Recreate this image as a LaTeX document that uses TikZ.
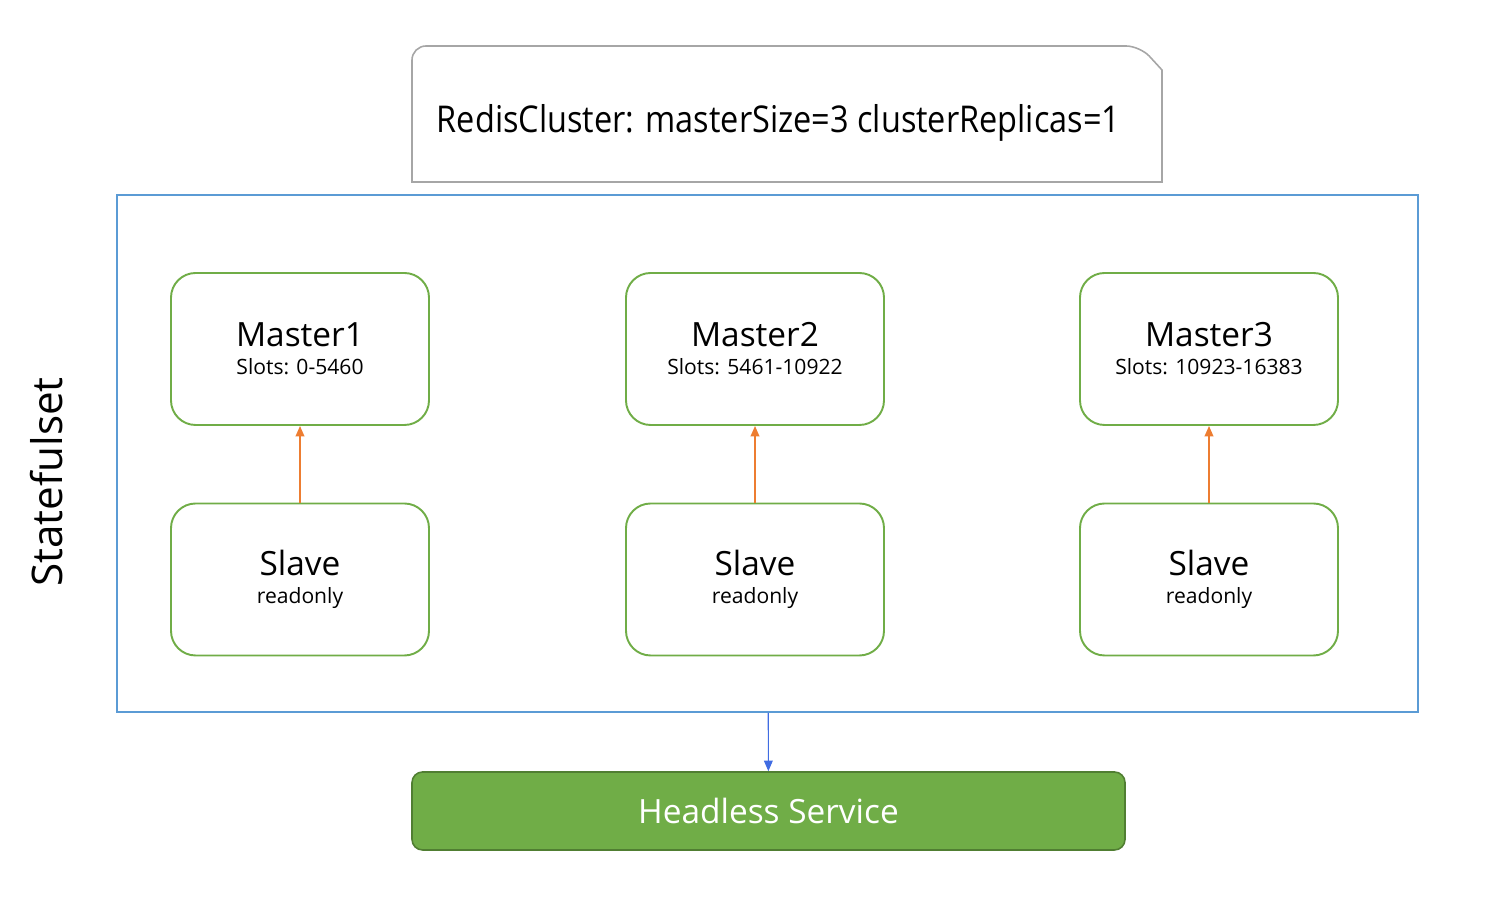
\documentclass[tikz,border=0pt]{standalone}
\usepackage{fontspec}
\setmainfont{Open Sans}
\newfontfamily\cardfont[FakeStretch=0.88]{Open Sans}
\usetikzlibrary{arrows.meta}
\definecolor{nodegreen}{HTML}{70AD47}
\definecolor{darkgreen}{HTML}{507E32}
\definecolor{setblue}{HTML}{5B9BD5}
\definecolor{linkorange}{HTML}{ED7D31}
\definecolor{cardgray}{HTML}{A6A6A6}
\begin{document}
\begin{tikzpicture}[
	pod/.style={draw=nodegreen, line width=1.1pt, rounded corners=14pt, minimum width=5.16cm, minimum height=3.04cm, align=center},
	sync/.style={draw=linkorange, line width=0.9pt, -{Triangle[width=5pt,length=6pt]}}]
		\useasboundingbox (0,0) rectangle (30.24,17.96);
		
		\draw[cardgray, line width=0.9pt, rounded corners=8pt] (8.24,14.32) -- (8.24,17.04) -- (22.8,17.04) [sharp corners] -- (23.24,16.56) -- (23.24,14.32) -- cycle;
		\node (spec) at (15.57,15.5) {\cardfont\fontsize{21}{26}\selectfont RedisCluster: masterSize=3 clusterReplicas=1};
		
		\node[draw=setblue, line width=0.9pt, minimum width=26.02cm, minimum height=10.34cm] (sts) at (15.35,8.89) {};
		\node[rotate=90] (stslabel) at (0.94,8.32) {\fontsize{24}{28}\selectfont Statefulset};
		
		\node[pod] (m1) at (6.0,10.98) {{\fontsize{19}{22}\selectfont Master1}\\[4pt]{\fontsize{12}{14}\selectfont Slots: 0-5460}};
		\node[pod] (m2) at (15.1,10.98) {{\fontsize{19}{22}\selectfont Master2}\\[4pt]{\fontsize{12}{14}\selectfont Slots: 5461-10922}};
		\node[pod] (m3) at (24.18,10.98) {{\fontsize{19}{22}\selectfont Master3}\\[4pt]{\fontsize{12}{14}\selectfont Slots: 10923-16383}};
		
		\node[pod] (s1) at (6.0,6.37) {{\fontsize{19}{22}\selectfont Slave}\\[4pt]{\fontsize{12}{14}\selectfont readonly}};
		\node[pod] (s2) at (15.1,6.37) {{\fontsize{19}{22}\selectfont Slave}\\[4pt]{\fontsize{12}{14}\selectfont readonly}};
		\node[pod] (s3) at (24.18,6.37) {{\fontsize{19}{22}\selectfont Slave}\\[4pt]{\fontsize{12}{14}\selectfont readonly}};
		
		\node[draw=darkgreen, fill=nodegreen, line width=0.9pt, rounded corners=6pt, minimum width=14.26cm, minimum height=1.56cm, text=white] (svc) at (15.37,1.74) {\fontsize{19}{22}\selectfont Headless Service};
		
		\foreach \from/\to in {s1/m1,s2/m2,s3/m3}
		\draw[sync] (\from) -- (\to);
		\draw[draw=setblue!70!blue, line width=0.6pt, -{Triangle[width=5pt,length=6pt]}] (sts) -- (svc);
		\end{tikzpicture}
\end{document}
